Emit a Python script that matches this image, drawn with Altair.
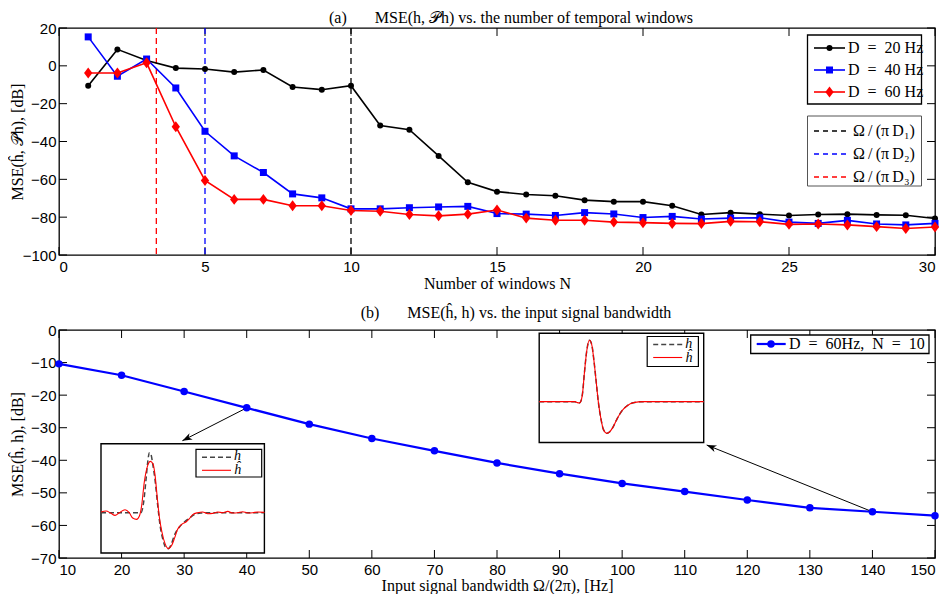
import math
import altair as alt
import pandas as pd

# ---------------- data ----------------
windows_N = list(range(1, 31))
mse_D20 = [-10.5, 8.7, 2.8, -1.2, -1.7, -3.3, -2.2, -11.2, -12.6, -10.5,
           -31.5, -33.8, -47.6, -61.6, -66.5, -68.0, -68.7, -71.0, -71.8, -71.8,
           -74.0, -78.6, -77.6, -78.4, -79.1, -78.6, -78.4, -78.8, -79.0, -80.7]
mse_D40 = [15.3, -5.5, 3.6, -11.7, -34.6, -47.6, -56.4, -67.7, -69.8, -75.6,
           -75.6, -75.0, -74.6, -74.3, -78.1, -78.4, -79.1, -77.6, -78.3, -80.2,
           -79.6, -81.0, -80.5, -80.3, -82.6, -83.3, -81.7, -83.6, -84.1, -83.3]
mse_D60 = [-3.8, -3.8, 1.6, -32.2, -60.6, -70.6, -70.6, -74.0, -74.0, -76.5,
           -76.9, -78.6, -79.3, -78.4, -76.2, -80.5, -81.6, -81.6, -82.6, -82.9,
           -83.3, -83.4, -82.2, -82.4, -83.8, -83.6, -84.1, -85.0, -86.0, -85.2]
SP = "\u2002"
series_labels = ["D" + SP + "=" + SP + "20 Hz", "D" + SP + "=" + SP + "40 Hz",
                 "D" + SP + "=" + SP + "60 Hz"]
cutoff_N = [10, 5, 10 / 3]
TS = "\u2009"
cutoff_labels = ["Ω" + TS + "/" + TS + "(π" + TS + "D₁)", "Ω" + TS + "/" + TS + "(π" + TS + "D₂)",
                 "Ω" + TS + "/" + TS + "(π" + TS + "D₃)"]
top_x_ticks = [0, 5, 10, 15, 20, 25, 30]
top_y_ticks = [-100, -80, -60, -40, -20, 0, 20]

bandwidth_Hz = [10, 20, 30, 40, 50, 60, 70, 80, 90, 100, 110, 120, 130, 140, 150]
mse_bw = [-10.4, -13.9, -18.9, -23.9, -28.9, -33.3, -37.1, -40.8, -44.1, -47.1,
          -49.6, -52.2, -54.6, -55.8, -57.0]
bottom_legend = "D" + SP + "=" + SP + "60Hz," + SP + "N" + SP + "=" + SP + "10"
bottom_x_ticks = bandwidth_Hz
bottom_y_ticks = [-70, -60, -50, -40, -30, -20, -10, 0]
arrow_idx = [3, 13]  # points (40 Hz, 140 Hz) that the arrows start from

# inset 1 (40 Hz): true h (dashed) and estimate h-hat (red)
in1_t_hhat = [0.000, 0.031, 0.061, 0.086, 0.112, 0.147, 0.173, 0.194, 0.218, 0.235,
              0.249, 0.265, 0.286, 0.302, 0.318, 0.331, 0.343, 0.357, 0.373, 0.392,
              0.412, 0.433, 0.449, 0.469, 0.494, 0.520, 0.541, 0.561, 0.592, 0.622,
              0.653, 0.684, 0.714, 0.745, 0.776, 0.806, 0.837, 0.867, 0.898, 0.929,
              0.959, 1.000]
in1_a_hhat = [0.02, 0.05, -0.02, -0.08, 0.00, 0.09, 0.00, -0.16, -0.20, -0.10,
              0.22, 0.92, 1.42, 1.54, 1.47, 1.12, 0.52, -0.13, -0.58, -0.93,
              -1.08, -0.98, -0.78, -0.50, -0.35, -0.28, -0.18, -0.06, 0.00, 0.02,
              -0.03, -0.02, 0.02, 0.00, 0.04, -0.01, 0.00, 0.03, -0.01, 0.00,
              0.02, 0.01]
in1_t_h = [0.000, 0.245, 0.261, 0.276, 0.286, 0.296, 0.306, 0.318, 0.331, 0.347,
           0.363, 0.380, 0.398, 0.412, 0.429, 0.449, 0.480, 0.510, 0.541, 0.571,
           0.612, 0.673, 1.000]
in1_a_h = [0.00, 0.00, 0.32, 1.02, 1.52, 1.80, 1.74, 1.42, 0.97, 0.22,
           -0.43, -0.83, -1.06, -1.08, -0.96, -0.68, -0.43, -0.28, -0.16, -0.06,
           -0.01, 0.00, 0.00]
# inset 2 (140 Hz): h and h-hat coincide
in2_t = [0.000, 0.187, 0.217, 0.232, 0.244, 0.254, 0.264, 0.274, 0.289, 0.305,
         0.319, 0.333, 0.346, 0.360, 0.374, 0.390, 0.411, 0.427, 0.447, 0.472,
         0.502, 0.533, 0.573, 0.634, 1.000]
in2_a = [0.00, 0.00, 0.00, -0.03, -0.04, 0.02, 0.27, 0.82, 1.52, 1.84,
         1.72, 1.22, 0.62, -0.03, -0.48, -0.83, -0.95, -0.91, -0.78, -0.53,
         -0.28, -0.13, -0.03, 0.00, 0.00]

NB = "\u00a0"
title_a = "(a)" + NB * 7 + "MSE(h, 𝒫h) vs. the number of temporal windows"
title_b = "(b)" + NB * 7 + "MSE(ĥ, h) vs. the input signal bandwidth"

# ---------------- styling ----------------
SERIF = "Liberation Serif"
SANS = "Liberation Sans"
COLORS = ["#000000", "#0000ff", "#ff0000"]
DIAMOND = "M0,-1.25L0.95,0L0,1.25L-0.95,0Z"
ARROW = "M0,0L0.36,1L0,0.72L-0.36,1Z"
SHAPES = ["circle", "square", DIAMOND]
SIZES = [36, 49, 77]
W, H1, H2 = 876, 227, 228
TICK = 8
ONE = alt.Data(values=[{}])


def inward_ticks(xvals, yvals, xs, ys, H, axx, axy):
    dx = pd.DataFrame({"v": xvals})
    dy = pd.DataFrame({"v": yvals})
    rule = dict(color="black", strokeWidth=1)
    return [
        alt.Chart(dx).mark_rule(**rule).encode(
            x=alt.X("v:Q", scale=xs, axis=axx), y=alt.value(H), y2=alt.value(H - TICK)),
        alt.Chart(dx).mark_rule(**rule).encode(
            x=alt.X("v:Q", scale=xs, axis=axx), y=alt.value(0), y2=alt.value(TICK)),
        alt.Chart(dy).mark_rule(**rule).encode(
            y=alt.Y("v:Q", scale=ys, axis=axy), x=alt.value(0), x2=alt.value(TICK)),
        alt.Chart(dy).mark_rule(**rule).encode(
            y=alt.Y("v:Q", scale=ys, axis=axy), x=alt.value(W), x2=alt.value(W - TICK)),
    ]


def box(x0, x1, y0, y1, stroke="black", sw=1.0):
    return alt.Chart(ONE).mark_rect(fill="white", stroke=stroke, strokeWidth=sw).encode(
        x=alt.value(x0), x2=alt.value(x1), y=alt.value(y0), y2=alt.value(y1))


def label(x, y, text, size=16, style="normal", align="left"):
    return alt.Chart(ONE).mark_text(text=text, font=SERIF, fontSize=size, fontStyle=style,
                                    align=align, baseline="middle", color="black").encode(
        x=alt.value(x), y=alt.value(y))


def sample(x0, x1, y, color, sw=1.5, dash=None):
    kw = dict(color=color, strokeWidth=sw)
    if dash:
        kw["strokeDash"] = dash
    return alt.Chart(ONE).mark_rule(**kw).encode(
        x=alt.value(x0), x2=alt.value(x1), y=alt.value(y))


def marker(x, y, color, shape, size):
    return alt.Chart(ONE).mark_point(shape=shape, size=size, filled=True, color=color,
                                     opacity=1).encode(x=alt.value(x), y=alt.value(y))


YTITLE_X = -34

# ---------------- (a) top panel ----------------
xs1 = alt.Scale(domain=[0, 30], nice=False, zero=False)
ys1 = alt.Scale(domain=[-100, 20], nice=False, zero=False)
ax_x1 = alt.Axis(values=top_x_ticks, title="Number of windows N", format="d")
ax_y1 = alt.Axis(values=top_y_ticks, title="MSE(ĥ, 𝒫h), [dB]", format="d",
                 titleX=YTITLE_X, titleY=H1 / 2, labelPadding=3)

top_layers = inward_ticks(top_x_ticks, top_y_ticks, xs1, ys1, H1, ax_x1, ax_y1)

df_cut = pd.DataFrame({"N": cutoff_N, "c": COLORS})
top_layers.append(
    alt.Chart(df_cut).mark_rule(strokeDash=[6, 4], strokeWidth=1.3).encode(
        x=alt.X("N:Q", scale=xs1, axis=ax_x1), color=alt.Color("c:N", scale=None)))

series = [mse_D20, mse_D40, mse_D60]
for i, vals in enumerate(series):
    df = pd.DataFrame({"N": windows_N, "mse": vals})
    base = alt.Chart(df).encode(
        x=alt.X("N:Q", scale=xs1, axis=ax_x1),
        y=alt.Y("mse:Q", scale=ys1, axis=ax_y1))
    top_layers.append(base.mark_line(color=COLORS[i], strokeWidth=1.6))
    top_layers.append(base.mark_point(shape=SHAPES[i], size=SIZES[i], filled=True,
                                      color=COLORS[i], opacity=1))

# legends (layout in pixels)
lx0, lx1 = 748.5, 862.5
top_layers.append(box(lx0, lx1, 7, 76, "black", 1.3))
for i, lab in enumerate(series_labels):
    yy = 20 + i * 22
    top_layers.append(sample(755, 786, yy, COLORS[i], 1.6))
    top_layers.append(marker(770.5, yy, COLORS[i], SHAPES[i], SIZES[i]))
    top_layers.append(label(789, yy, lab))
top_layers.append(box(lx0, lx1, 88, 158, "#555555", 1.0))
for i, lab in enumerate(cutoff_labels):
    yy = 103 + i * 23
    top_layers.append(sample(755, 790, yy, COLORS[i], 1.3, [5, 4]))
    top_layers.append(label(794, yy, lab))

top_layers.append(label(452, -10.5, title_a, 16, align="center"))

top = alt.layer(*top_layers).properties(width=W, height=H1)

# ---------------- (b) bottom panel ----------------
xs2 = alt.Scale(domain=[10, 150], nice=False, zero=False)
ys2 = alt.Scale(domain=[-70, 0], nice=False, zero=False)
ax_x2 = alt.Axis(values=bottom_x_ticks, title="Input signal bandwidth Ω/(2π), [Hz]", format="d",
                 titlePadding=0)
ax_y2 = alt.Axis(values=bottom_y_ticks, title="MSE(ĥ, h), [dB]", format="d",
                 titleX=YTITLE_X, titleY=H2 / 2, labelPadding=3)

main_layers = inward_ticks(bottom_x_ticks, bottom_y_ticks, xs2, ys2, H2, ax_x2, ax_y2)
df_bw = pd.DataFrame({"bw": bandwidth_Hz, "mse": mse_bw})
bw_base = alt.Chart(df_bw).encode(x=alt.X("bw:Q", scale=xs2, axis=ax_x2),
                                  y=alt.Y("mse:Q", scale=ys2, axis=ax_y2))
main_layers.append(bw_base.mark_line(color="#0000ff", strokeWidth=2.2))

# arrows from data points to insets
arrow_ends = [(123.4, 110.7), (647.7, 115.0)]
for idx, (ex, ey) in zip(arrow_idx, arrow_ends):
    bx, by = bandwidth_Hz[idx], mse_bw[idx]
    sx = (bx - 10) / 140 * W
    sy = (-by) / 70 * H2
    ang = math.degrees(math.atan2(ex - sx, -(ey - sy))) % 360
    dfa = pd.DataFrame({"bw": [bx], "mse": [by]})
    main_layers.append(alt.Chart(dfa).mark_rule(color="black", strokeWidth=1).encode(
        x=alt.X("bw:Q", scale=xs2, axis=ax_x2), y=alt.Y("mse:Q", scale=ys2, axis=ax_y2),
        x2=alt.value(ex), y2=alt.value(ey)))
    main_layers.append(alt.Chart(ONE).mark_point(shape=ARROW, size=380, filled=True,
                                                 color="black", opacity=1, angle=ang).encode(
        x=alt.value(ex), y=alt.value(ey)))

main_layers.append(bw_base.mark_point(shape="circle", size=56, filled=True,
                                      color="#0000ff", opacity=1))

main_layers.append(box(691.7, 870, 5, 23.5, "black", 1.3))
main_layers.append(sample(697.7, 726.7, 14, "#0000ff", 2.2))
main_layers.append(marker(712, 14, "#0000ff", "circle", 56))
main_layers.append(label(730, 14, bottom_legend))
main_layers.append(label(457, -17, title_b, 16, align="center"))
main = alt.layer(*main_layers)


def inset(t_h, a_h, t_e, a_e, bx0, bx1, by0, by1, amin, amax, leg):
    xs = alt.Scale(domain=[0, 1], range=[bx0, bx1], nice=False, zero=False)
    ys = alt.Scale(domain=[amin, amax], range=[by1, by0], nice=False, zero=False)
    dh = pd.DataFrame({"t": t_h, "a": a_h})
    de = pd.DataFrame({"t": t_e, "a": a_e})
    lines = [
        alt.Chart(dh).mark_line(color="#444444", strokeWidth=1.5, strokeDash=[5, 3],
                                interpolate="monotone").encode(
            x=alt.X("t:Q", scale=xs, axis=None), y=alt.Y("a:Q", scale=ys, axis=None)),
        alt.Chart(de).mark_line(color="#ff0000", strokeWidth=1.1,
                                interpolate="monotone").encode(
            x=alt.X("t:Q", scale=xs, axis=None), y=alt.Y("a:Q", scale=ys, axis=None)),
    ]
    lx0, lx1, ly0, ly1 = leg
    parts = [box(bx0, bx1, by0, by1, "black", 1.4)] + lines + [
        box(lx0, lx1, ly0, ly1, "black", 1.2),
        sample(lx0 + 6, lx0 + 35, ly0 + 8, "#444444", 1.5, [5, 3]),
        label(lx0 + 38, ly0 + 7, "h", 14, "italic"),
        sample(lx0 + 6, lx0 + 35, ly0 + 21, "#ff0000", 1.1),
        label(lx0 + 38, ly0 + 21, "ĥ", 14, "italic"),
    ]
    return alt.layer(*parts)


inset1 = inset(in1_t_h, in1_a_h, in1_t_hhat, in1_a_hhat,
               42.0, 205.4, 113.7, 223.0, -1.21, 2.07, (137.0, 202.7, 119.3, 147.0))
inset2 = inset(in2_t, in2_a, in2_t, in2_a,
               480.2, 644.7, 3.3, 112.5, -1.225, 2.05, (588.2, 639.4, 6.5, 36.5))

bottom = alt.layer(main, inset1, inset2).resolve_scale(
    x="independent", y="independent").properties(width=W, height=H2)

chart = alt.vconcat(top, bottom, spacing=12).properties(
    padding={"left": 0, "top": 0, "right": 0, "bottom": 0}
).configure_view(stroke="black", strokeWidth=1.3).configure_axis(
    grid=False, ticks=False, domain=False,
    labelFont=SANS, labelFontSize=15, labelColor="black", labelPadding=5,
    titleFont=SERIF, titleFontSize=16, titleFontWeight="normal", titleColor="black",
).configure_axisX(labelPadding=4, titlePadding=1)

chart.save("out.html", embed_options={"renderer": "svg", "actions": False})
